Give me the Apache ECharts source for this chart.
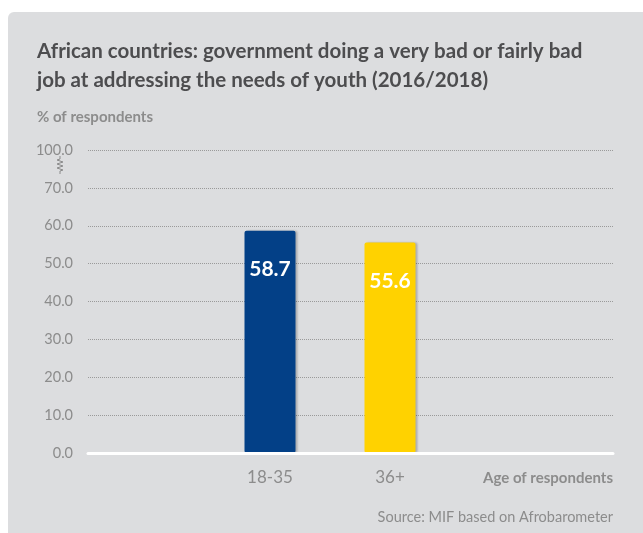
<!DOCTYPE html>
<html><head><meta charset="utf-8">
<script src="https://cdn.jsdelivr.net/npm/echarts@6/dist/echarts.min.js"></script>
<style>html,body{margin:0;padding:0;background:#fff;}#c{width:643px;height:533px;}</style>
</head><body><div id="c"></div>
<script>
const categories = ['18-35', '36+'];
const values = [58.7, 55.6];
const barColors = ['#034087', '#FFD200'];
const yTickLabels = ['0.0','10.0','20.0','30.0','40.0','50.0','60.0','70.0','100.0'];
const titleText = 'African countries: government doing a very bad or fairly bad\njob at addressing the needs of youth (2016/2018)';

const chart = echarts.init(document.getElementById('c'));
const FONT = 'Lato';
const grey = '#8c8c8c';
chart.setOption({
  backgroundColor: '#ffffff',
  animation: false,
  title: [
    {text: titleText, left: 37, top: 37, padding: 0, textStyle: {fontFamily: FONT, fontSize: 20.5, fontWeight: 'bold', color: '#4d4d4f', lineHeight: 29}},
    {text: '% of respondents', left: 37, top: 110, padding: 0, textStyle: {fontFamily: FONT, fontSize: 15, fontWeight: 'bold', color: grey}},
    {text: 'Source: MIF based on Afrobarometer', right: 30, top: 510, padding: 0, textStyle: {fontFamily: FONT, fontSize: 14.5, fontWeight: 'normal', color: grey}}
  ],
  graphic: [
    {type: 'rect', z: -10, shape: {x: 8, y: 12, width: 700, height: 600, r: 6}, style: {fill: '#dcdddf'}},
    {type: 'polyline', z: 10, shape: {points: [[60,156],[60,159],[57,160],[63,162],[57,164],[63,166],[57,168],[63,170],[60,171],[60,174]]}, style: {stroke: '#8c8c8c', lineWidth: 1, fill: null}},
    {type: 'text', right: 30, top: 471, style: {text: 'Age of respondents', font: 'bold 15px ' + FONT, fill: grey}}
  ],
  grid: [
    {left: 88, right: 30, top: 150, bottom: 80},
    {left: 210, width: 240, top: 150, bottom: 80}
  ],
  xAxis: [
    {type: 'category', gridIndex: 0, data: [''], axisLine: {show: true, lineStyle: {color: '#ffffff', width: 3}}, axisTick: {show: false}, axisLabel: {show: false}, z: 5},
    {type: 'category', gridIndex: 1, data: categories, axisLine: {show: false}, axisTick: {show: false},
     axisLabel: {fontFamily: FONT, fontSize: 17, color: grey, margin: 16}}
  ],
  yAxis: [
    {type: 'value', gridIndex: 0, min: 0, max: 80, interval: 10,
     axisLine: {show: false}, axisTick: {show: false},
     splitLine: {lineStyle: {color: '#9a9a9a', type: 'dotted', width: 1}},
     axisLabel: {fontFamily: FONT, fontSize: 14.5, color: grey, margin: 15, formatter: (v) => yTickLabels[Math.round(v / 10)]}},
    {type: 'value', gridIndex: 1, min: 0, max: 80, interval: 10, show: false, splitLine: {show: false}}
  ],
  series: [{
    type: 'bar', xAxisIndex: 1, yAxisIndex: 1, barWidth: 51,
    data: values.map((v, i) => ({value: v, itemStyle: {color: barColors[i]}})),
    itemStyle: {borderRadius: 2, shadowColor: 'rgba(0,0,0,0.22)', shadowBlur: 2, shadowOffsetX: 2, shadowOffsetY: 0},
    label: {show: true, position: 'insideTop', distance: 28, fontFamily: FONT, fontSize: 21, fontWeight: 'bold', color: '#ffffff', formatter: (p) => p.value.toFixed(1)}
  }]
});
</script></body></html>
